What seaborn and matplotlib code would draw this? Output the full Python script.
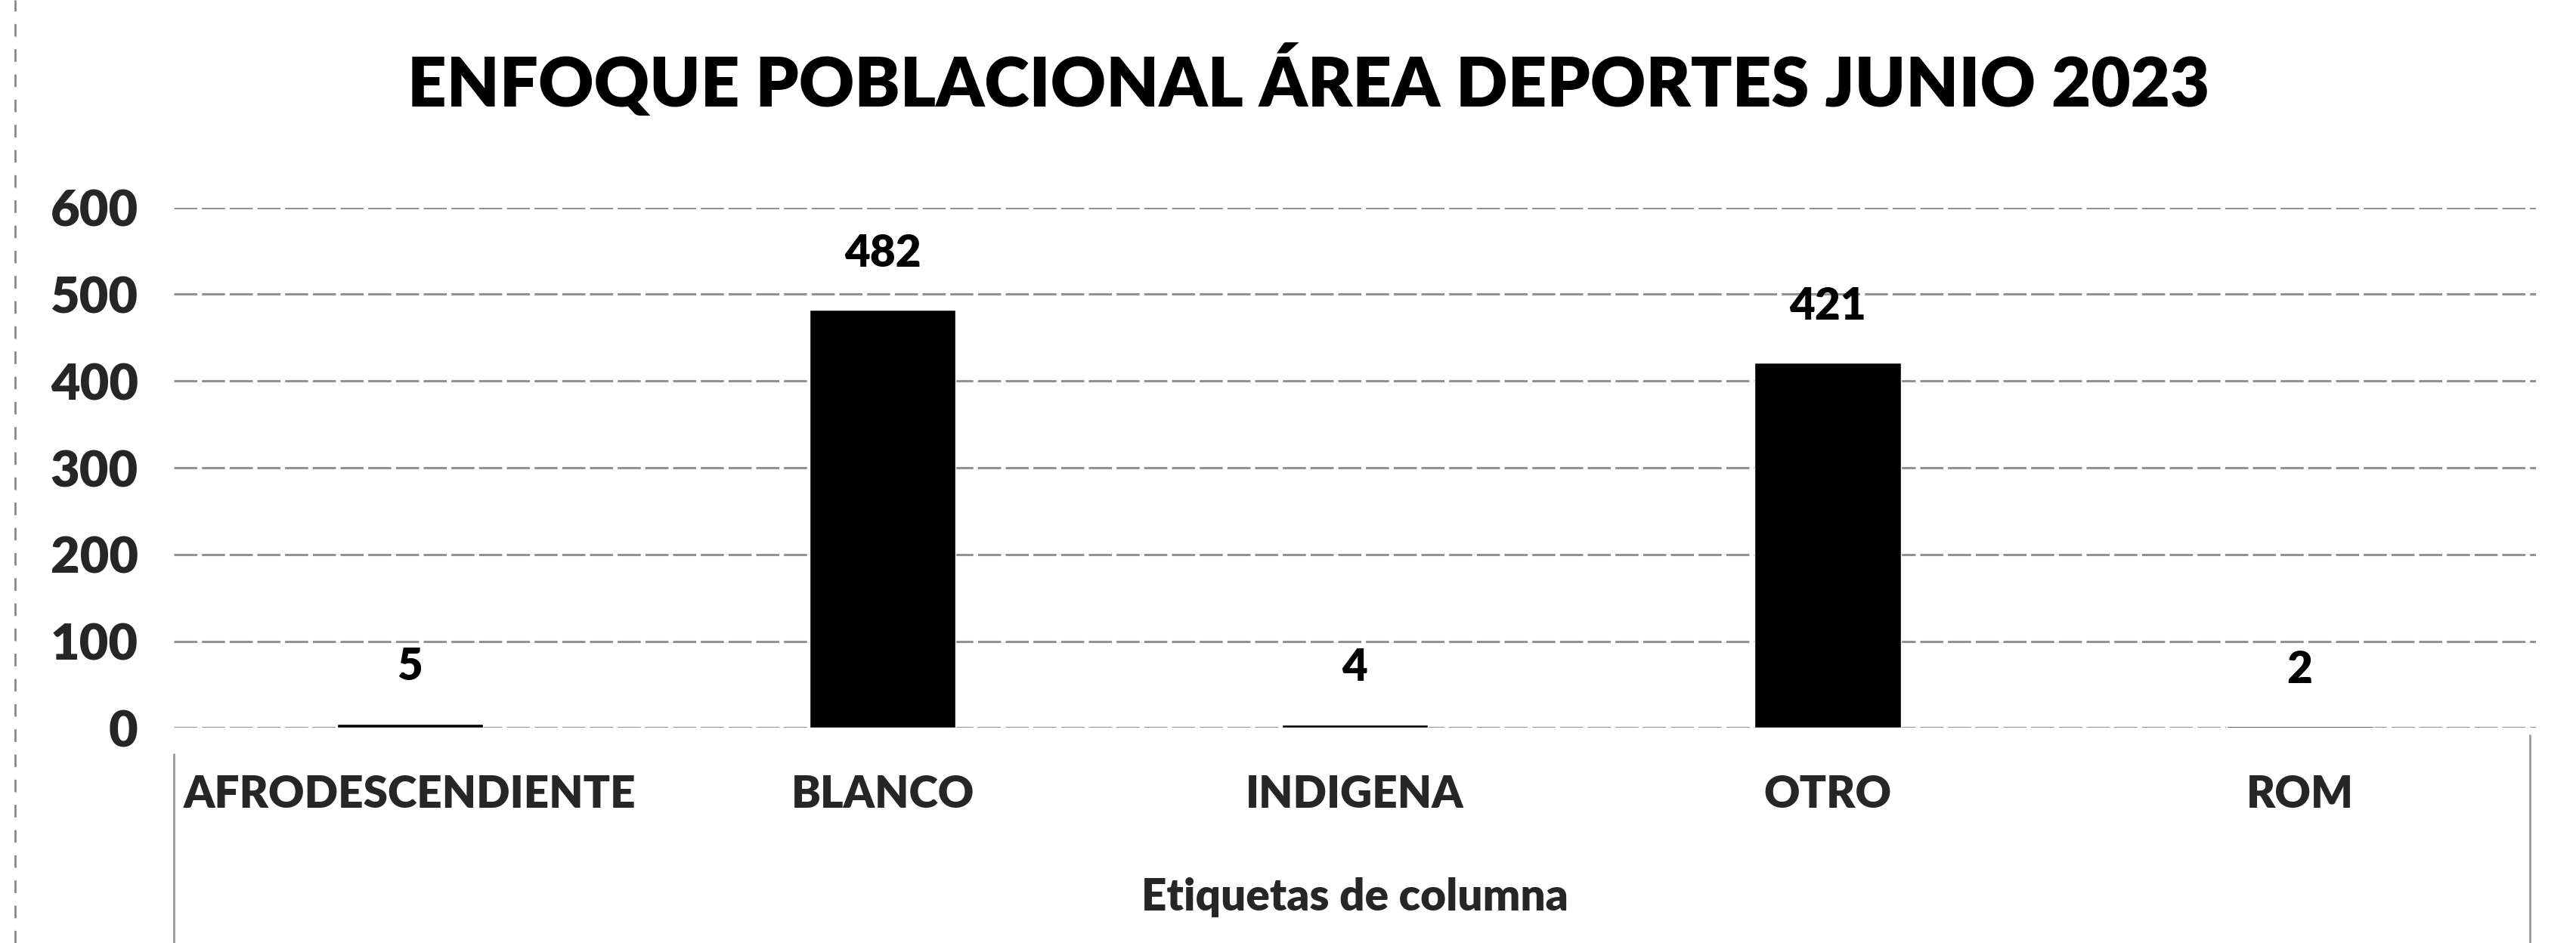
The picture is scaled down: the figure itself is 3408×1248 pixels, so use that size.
import matplotlib
matplotlib.use("Agg")
import matplotlib.pyplot as plt
import seaborn as sns
import pandas as pd

# data
categorias = ["AFRODESCENDIENTE", "BLANCO", "INDIGENA", "OTRO", "ROM"]
valores = [5, 482, 4, 421, 2]
y_ticks = [0, 100, 200, 300, 400, 500, 600]

titulo = "ENFOQUE POBLACIONAL ÁREA DEPORTES JUNIO 2023"
eje_x = "Etiquetas de columna"

sns.set_theme(style="white")
plt.rcParams['font.family'] = ['Lato', 'DejaVu Sans']
plt.rcParams['font.weight'] = 'bold'

df = pd.DataFrame({"categoria": categorias, "valor": valores})

fig = plt.figure(figsize=(34.08, 12.48), dpi=100)
fig.patch.set_facecolor("white")
ax = fig.add_axes([0.0675, 0.228, 0.917, 0.552])

sns.barplot(data=df, x="categoria", y="valor", color="black",
            width=0.31, saturation=1, ax=ax, zorder=3)

ax.set_ylim(0, 600)
ax.set_yticks(y_ticks)
ax.set_yticklabels([str(t) for t in y_ticks], fontsize=48, fontweight='heavy')
ax.set_xticks(range(len(categorias)))
ax.set_xticklabels(categorias, fontsize=42, fontweight='heavy')
ax.tick_params(axis='x', length=0, pad=44)
ax.tick_params(axis='y', length=0, pad=34)

ax.grid(axis='y', color='#777777', linewidth=2.2, linestyle=(0, (10, 2)), alpha=0.8, zorder=0)
for s in ax.spines.values():
    s.set_visible(False)

for i, v in enumerate(valores):
    ax.annotate(str(v), xy=(i, v), xytext=(0, 54), textcoords='offset points',
                ha='center', va='center', fontsize=42, fontweight='heavy', color='black')

ax.set_xlabel(eje_x, fontsize=42, fontweight='heavy', labelpad=60)
ax.set_ylabel("")

fig.text(0.508, 0.914, titulo, ha='center', va='center',
         fontsize=65, fontweight='heavy', color='black')

# faint frame lines from the scanned sheet
fig.add_artist(plt.Line2D([0.006, 0.006], [0, 1], color='#888888', lw=2, ls=(0, (6, 6))))
fig.add_artist(plt.Line2D([0.0675, 0.0675], [0, 0.2], color='#999999', lw=2))
fig.add_artist(plt.Line2D([0.982, 0.982], [0, 0.22], color='#999999', lw=2))

fig.savefig("out.png", dpi=100, facecolor="white")
plt.close(fig)
